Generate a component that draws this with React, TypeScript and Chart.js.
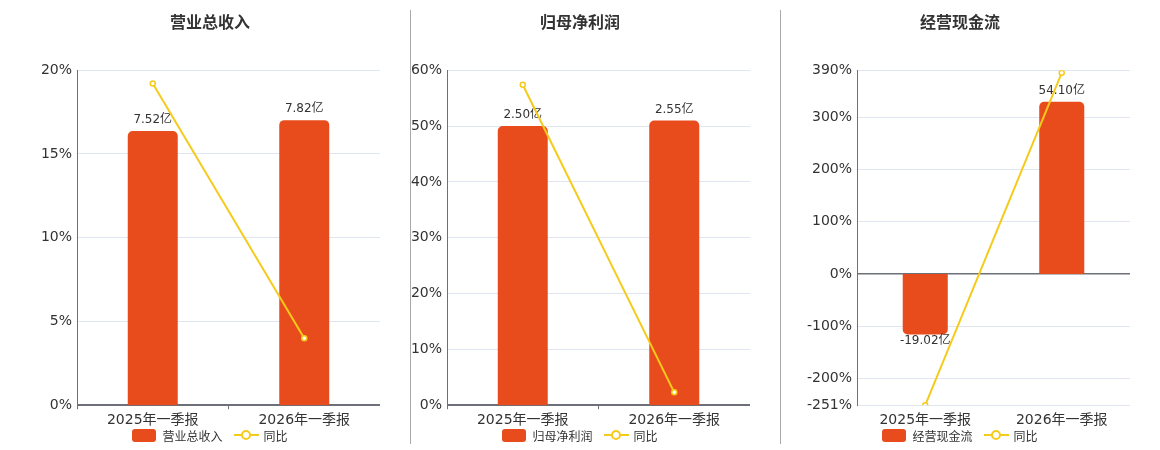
import { useEffect, useRef } from "react"
import { Chart, registerables } from "chart.js"

Chart.register(...registerables)

const FONT = "'DejaVu Sans', 'Noto Sans CJK SC', sans-serif"
const BAR_COLOR = "#e84c1d"
const LINE_COLOR = "#f5cb1b"
const AXIS_COLOR = "#6e7079"
const GRID_COLOR = "#e0e6f1"
const TEXT_COLOR = "#333"

Chart.defaults.font.family = FONT

const categories = ["2025年一季报", "2026年一季报"]

const revenueValues = [7.52, 7.82]
const revenueYoy = [19.2, 4.0]
const revenueTicks = [0, 5, 10, 15, 20]

const profitValues = [2.5, 2.55]
const profitYoy = [57.4, 2.3]
const profitTicks = [0, 10, 20, 30, 40, 50, 60]

const cashValues = [-19.02, 54.1]
const cashYoy = [-251, 385]
const cashTicks = [-251, -200, -100, 0, 100, 200, 300, 390]

// value labels on the bars, drawn before the line so the line stays on top
const barLabelPlugin = {
  id: "barLabels",
  afterDatasetDraw(chart: any, args: any) {
    if (args.index !== 0) return
    const { ctx } = chart
    const ds = chart.data.datasets[0]
    ctx.save()
    ctx.font = `12px ${FONT}`
    ctx.fillStyle = TEXT_COLOR
    ctx.textAlign = "center"
    ctx.textBaseline = "middle"
    args.meta.data.forEach((el: any, i: number) => {
      const v = ds.data[i] as number
      const y = v >= 0 ? el.y - 11 : el.y + 6
      ctx.fillText(`${v.toFixed(2)}亿`, el.x, y)
    })
    ctx.restore()
  },
}

interface PanelProps {
  left: number
  axisWidth: number
  title: string
  name: string
  values: number[]
  yoy: number[]
  ticks: number[]
  barMin: number
  barMax: number
  zeroAtBottom: boolean
}

function Legend({ center, name }: { center: number; name: string }) {
  return (
    <div
      style={{
        position: "absolute",
        left: center - 150,
        width: 300,
        top: 428,
        height: 14,
        display: "flex",
        justifyContent: "center",
        alignItems: "center",
        fontFamily: FONT,
        fontSize: 12,
        color: TEXT_COLOR,
        whiteSpace: "nowrap",
      }}
    >
      <span style={{ width: 24, height: 13, borderRadius: 3, background: BAR_COLOR, marginRight: 6 }} />
      <span style={{ marginRight: 11 }}>{name}</span>
      <span style={{ position: "relative", width: 25, height: 13, marginRight: 5 }}>
        <span style={{ position: "absolute", left: 0, top: 5.5, width: 25, height: 2, background: LINE_COLOR }} />
        <span
          style={{
            position: "absolute",
            left: 7.5,
            top: 1.5,
            width: 6,
            height: 6,
            borderRadius: "50%",
            border: `2px solid ${LINE_COLOR}`,
            background: "#fff",
          }}
        />
      </span>
      <span>同比</span>
    </div>
  )
}

function Panel({ left, axisWidth, title, name, values, yoy, ticks, barMin, barMax, zeroAtBottom }: PanelProps) {
  const chartRef = useRef<HTMLCanvasElement>(null)

  useEffect(() => {
    if (!chartRef.current) return
    const ctx = chartRef.current.getContext("2d")
    if (!ctx) return

    const chart = new Chart(ctx, {
      type: "bar",
      data: {
        labels: categories,
        datasets: [
          {
            type: "bar",
            label: name,
            data: values,
            yAxisID: "yBar",
            backgroundColor: BAR_COLOR,
            borderRadius: 5,
            barPercentage: 0.33,
            categoryPercentage: 1,
            order: 2,
          },
          {
            type: "line",
            label: "同比",
            data: yoy,
            yAxisID: "y",
            borderColor: LINE_COLOR,
            borderWidth: 2,
            pointRadius: 2.5,
            pointBorderWidth: 1.5,
            pointBackgroundColor: "#fff",
            pointBorderColor: LINE_COLOR,
            tension: 0,
            order: 1,
          },
        ] as any,
      },
      plugins: [barLabelPlugin],
      options: {
        animation: false,
        responsive: true,
        maintainAspectRatio: false,
        layout: { autoPadding: false, padding: { left: 0, right: 0, top: 0, bottom: 18 } },
        plugins: {
          title: {
            display: true,
            text: title,
            color: TEXT_COLOR,
            font: { size: 16, weight: "bold" },
            padding: { top: 14, bottom: 37 },
          },
          legend: { display: false },
          tooltip: { enabled: false },
        },
        scales: {
          x: {
            grid: {
              display: true,
              drawOnChartArea: false,
              drawTicks: true,
              tickLength: 4,
              tickColor: zeroAtBottom ? AXIS_COLOR : "transparent",
            },
            border: { display: false },
            ticks: { color: TEXT_COLOR, font: { size: 14 }, padding: 3 },
          },
          y: {
            position: "left",
            min: ticks[0],
            max: ticks[ticks.length - 1],
            afterBuildTicks: (s: any) => { s.ticks = ticks.map(v => ({ value: v })) },
            grid: {
              color: (c: any) => (c.tick && c.tick.value === 0 ? AXIS_COLOR : GRID_COLOR),
              lineWidth: (c: any) => (c.tick && c.tick.value === 0 ? (zeroAtBottom ? 2 : 1.5) : 1),
              drawTicks: false,
            },
            border: { display: true, color: AXIS_COLOR, width: 1 },
            ticks: {
              color: TEXT_COLOR,
              font: { size: 14 },
              padding: 5,
              callback: (v: any) => `${v}%`,
            },
            afterFit: (s: any) => { s.width = axisWidth },
          },
          yBar: {
            display: false,
            min: barMin,
            max: barMax,
          },
        },
      },
    })

    return () => {
      chart.destroy()
    }
  }, [])

  return (
    <>
      <div style={{ position: "absolute", left, top: 0, width: 340, height: 450 }}>
        <canvas ref={chartRef} />
      </div>
      <Legend center={left + 170} name={name} />
    </>
  )
}

export default function App() {
  return (
    <div style={{ position: "absolute", left: 0, top: 0, width: 1160, height: 450, overflow: "hidden", background: "#fff" }}>
      <Panel left={40} axisWidth={37} title="营业总收入" name="营业总收入" values={revenueValues} yoy={revenueYoy} ticks={revenueTicks} barMin={0} barMax={9.19} zeroAtBottom />
      <Panel left={410} axisWidth={37} title="归母净利润" name="归母净利润" values={profitValues} yoy={profitYoy} ticks={profitTicks} barMin={0} barMax={3.0} zeroAtBottom />
      <Panel left={790} axisWidth={67} title="经营现金流" name="经营现金流" values={cashValues} yoy={cashYoy} ticks={cashTicks} barMin={-41.2} barMax={64} zeroAtBottom={false} />
      <div style={{ position: "absolute", left: 410, top: 10, width: 1, height: 434, background: "#aaa" }} />
      <div style={{ position: "absolute", left: 780, top: 10, width: 1, height: 434, background: "#aaa" }} />
    </div>
  )
}
